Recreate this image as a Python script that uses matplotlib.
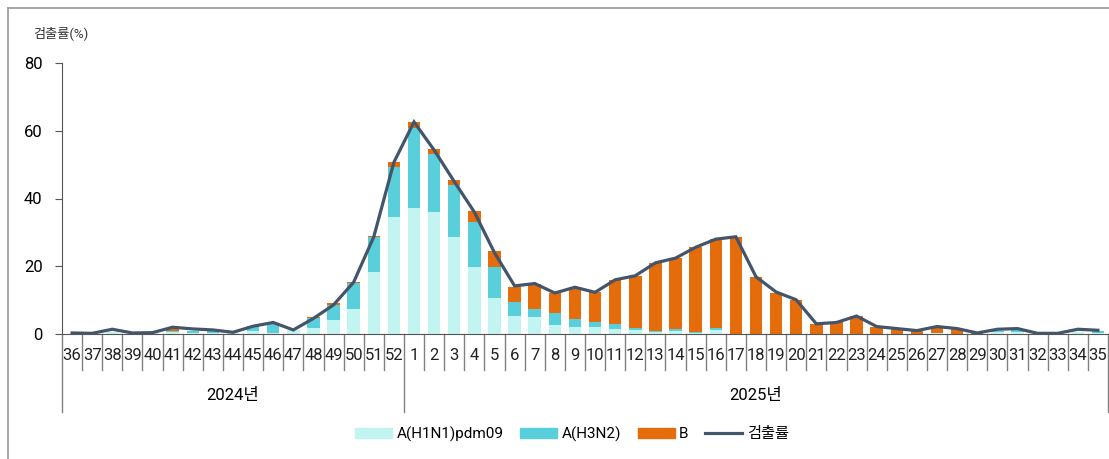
import matplotlib
matplotlib.use("Agg")
import matplotlib.pyplot as plt
import numpy as np
from matplotlib.lines import Line2D
from matplotlib.patches import Patch

plt.rcParams['font.family'] = ['Roboto', 'Noto Sans CJK KR', 'DejaVu Sans']

# =========================
# DATA
# =========================
weeks_2024 = list(range(36, 53))
weeks_2025 = list(range(1, 36))
week_labels = [str(w) for w in weeks_2024 + weeks_2025]

h1n1 = [0, 0, 0.6, 0, 0.2, 0.7, 0.3, 0.3, 0.2, 0.9, 0.4, 1.2, 1.9, 4.1, 7.4, 18.2, 34.4,
        37.3, 36.1, 28.5, 19.7, 10.5, 5.3, 4.9, 2.6, 2.1, 2.1, 1.5, 1.2, 0.7, 0.9, 0.2, 1.1,
        0.1, 0, 0, 0, 0, 0, 0, 0, 0, 0, 0.3, 0.1, 0, 0.6, 0.5, 0, 0, 0.6, 0.4]
h3n2 = [0, 0, 0, 0, 0, 0.3, 0.7, 0.6, 0.1, 1.3, 2.8, 0, 2.7, 4.5, 7.8, 10.5, 14.9,
        23.6, 16.9, 15.6, 13.3, 9.2, 4.0, 2.5, 3.6, 2.3, 1.4, 1.5, 0.5, 0.3, 0.5, 0.3, 0.7,
        0, 0, 0, 0, 0, 0, 0, 0, 0, 0, 0, 0, 0, 0.4, 0.7, 0, 0, 0, 0.6]
b = [0, 0, 0, 0, 0, 0.7, 0, 0, 0, 0.1, 0, 0, 0.5, 0.5, 0.1, 0.1, 1.4,
     1.7, 1.7, 1.4, 3.2, 4.9, 4.7, 7.4, 5.8, 9.4, 8.8, 12.9, 15.5, 19.9, 21.0, 25.3, 26.2,
     28.6, 16.9, 12.2, 10.1, 3.0, 3.4, 5.3, 2.2, 1.4, 1.0, 1.9, 1.4, 0.2, 0, 0.3, 0, 0, 0, 0]
rate = [0.3, 0.2, 1.4, 0.3, 0.4, 2.0, 1.5, 1.2, 0.5, 2.3, 3.4, 1.2, 4.6, 8.6, 15.3, 28.7, 50.7,
        62.6, 54.3, 45.0, 36.0, 24.0, 14.2, 14.9, 12.1, 13.8, 12.3, 16.0, 17.2, 21.0, 22.4, 25.6, 28.0,
        28.7, 16.9, 12.4, 10.1, 3.0, 3.4, 5.3, 2.2, 1.6, 1.0, 2.2, 1.6, 0.3, 1.4, 1.6, 0.2, 0.2, 1.4, 1.1]

c_h1n1 = '#C2F4F1'
c_h3n2 = '#58CFDB'
c_b = '#E46C0A'
c_line = '#44546A'
c_sep = '#808080'

# =========================
# PLOT
# =========================
fig = plt.figure(figsize=(11.09, 4.59), dpi=100)
ax = fig.add_axes([62 / 1109, (459 - 334) / 459, 1046 / 1109, 271 / 459])

x = np.arange(len(week_labels))
h1n1 = np.array(h1n1)
h3n2 = np.array(h3n2)
b = np.array(b)

ax.bar(x, h1n1, width=0.62, color=c_h1n1, zorder=2)
ax.bar(x, h3n2, width=0.62, bottom=h1n1, color=c_h3n2, zorder=2)
ax.bar(x, b, width=0.62, bottom=h1n1 + h3n2, color=c_b, zorder=2)
ax.plot(x, rate, color=c_line, lw=2.3, zorder=3, solid_joinstyle='miter')

ax.set_xlim(-0.5, len(x) - 0.5)
ax.set_ylim(0, 80)
ax.set_yticks([0, 20, 40, 60, 80])
ax.tick_params(axis='y', labelsize=12, length=5, color='#555555', pad=9)
ax.set_xticks([])

for s in ['top', 'right']:
    ax.spines[s].set_visible(False)
ax.spines['left'].set_color('#555555')
ax.spines['bottom'].set_color('#555555')

# week labels and separators
tr = ax.get_xaxis_transform()
for i, lab in enumerate(week_labels):
    ax.text(i, -0.08, lab, transform=tr, ha='center', va='center', fontsize=12, color='#222222')
n17 = len(weeks_2024)
for i in range(len(x) + 1):
    bottom = -0.288 if i in (0, n17, len(x)) else -0.133
    ax.plot([i - 0.5, i - 0.5], [0, bottom], transform=tr, color=c_sep, lw=1, clip_on=False)

ax.text((n17 - 1) / 2, -0.228, '2024년', transform=tr, ha='center', va='center', fontsize=12)
ax.text(n17 + (len(weeks_2025) - 1) / 2, -0.228, '2025년', transform=tr, ha='center', va='center', fontsize=12)

fig.text(33 / 1109, 1 - 33 / 459, '검출률(%)', fontsize=9.5, ha='left', va='center', color='#333333')

# outer frame (top and left only)
fig.add_artist(Line2D([8 / 1109, 8 / 1109], [0, 1 - 8 / 459], color='#999999', lw=1.2))
fig.add_artist(Line2D([8 / 1109, 1], [1 - 8 / 459, 1 - 8 / 459], color='#999999', lw=1.2))

handles = [Patch(color=c_h1n1), Patch(color=c_h3n2), Patch(color=c_b),
           Line2D([0], [0], color=c_line, lw=2.3)]
fig.legend(handles, ['A(H1N1)pdm09', 'A(H3N2)', 'B', '검출률'], loc='center',
           bbox_to_anchor=(572 / 1109, 1 - 434 / 459), ncol=4, frameon=False, fontsize=11,
           handlelength=2.4, handleheight=0.6, handletextpad=0.3, columnspacing=1.1)

plt.savefig('out.png', dpi=100)
